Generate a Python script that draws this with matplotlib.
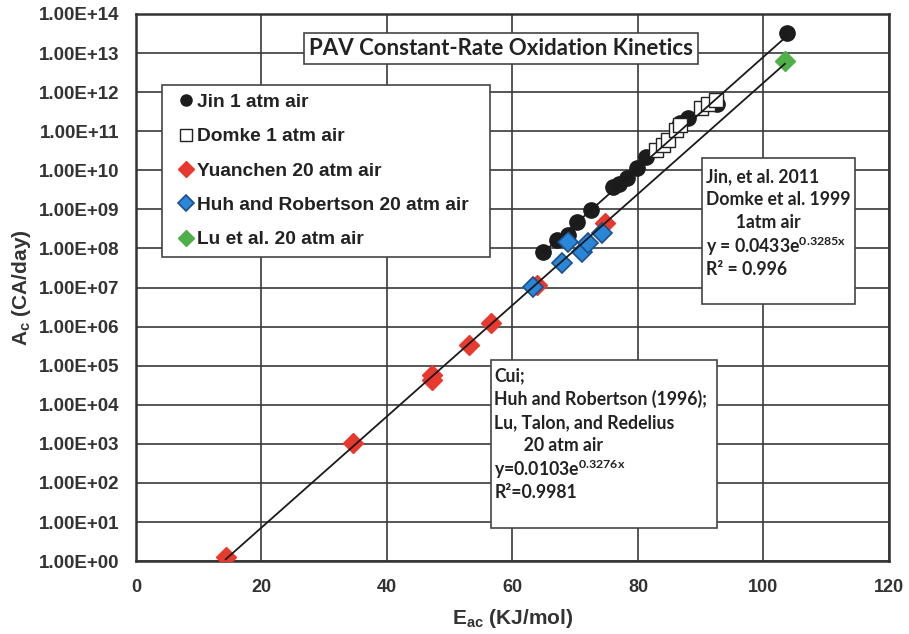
import numpy as np
import matplotlib
matplotlib.use("Agg")
import matplotlib.pyplot as plt
from matplotlib.ticker import FuncFormatter, FixedLocator
from matplotlib.patches import Rectangle

plt.rcParams['font.family'] = ['Liberation Sans', 'DejaVu Sans']
plt.rcParams['mathtext.fontset'] = 'custom'
plt.rcParams['mathtext.rm'] = 'Liberation Sans:bold'
plt.rcParams['mathtext.sf'] = 'Lato:bold'

# data (x: kJ/mol, y: log10 of A_c)
jin_x = [64.9, 67.1, 68.8, 70.3, 72.5, 76.0, 77.0, 78.2, 79.8, 81.3, 86.7, 88.0, 92.6, 103.7]
jin_logy = [7.91, 8.22, 8.35, 8.68, 8.99, 9.58, 9.65, 9.81, 10.06, 10.34, 11.21, 11.34, 11.70, 13.51]

domke_x = [82.9, 84.0, 84.8, 86.1, 86.7, 90.0, 91.2, 92.4]
domke_logy = [10.52, 10.65, 10.78, 11.03, 11.16, 11.60, 11.70, 11.80]

yuan_x = [14.3, 34.6, 47.2, 47.2, 53.1, 56.6, 63.9, 74.7]
yuan_logy = [0.11, 3.03, 4.77, 4.64, 5.53, 6.10, 7.07, 8.65]

huh_x = [63.3, 67.9, 68.8, 71.1, 72.0, 74.3]
huh_logy = [7.02, 7.63, 8.17, 7.91, 8.14, 8.40]

lu_x = [103.4]
lu_logy = [12.80]

# exponential fits given on the chart
fit1_a, fit1_b = 0.0433, 0.3285   # Jin + Domke, 1 atm
fit2_a, fit2_b = 0.0103, 0.3276   # 20 atm

to_val = lambda lst: 10 ** np.array(lst)
calib = ['Lato', 'DejaVu Sans']

fig = plt.figure(figsize=(9.09, 6.34), dpi=100)
ax = fig.add_axes([0.1496, 0.115, 0.978 - 0.1496, 0.978 - 0.115])

# trend lines over the data range
x1 = np.linspace(min(jin_x + domke_x), max(jin_x + domke_x), 50)
ax.plot(x1, fit1_a * np.exp(fit1_b * x1), color='#1a1a1a', lw=1.3, zorder=4)
all20 = yuan_x + huh_x + lu_x
x2 = np.linspace(min(all20), max(all20), 50)
ax.plot(x2, fit2_a * np.exp(fit2_b * x2), color='#1a1a1a', lw=1.3, zorder=4)

ax.plot(jin_x, to_val(jin_logy), 'o', ms=11, color='#1c1c1c', mec='#1c1c1c', label='Jin 1 atm air', zorder=3)
ax.plot(domke_x, to_val(domke_logy), 's', ms=10, mfc='white', mec='#222222', mew=1.0,
        label='Domke 1 atm air', zorder=3)
ax.plot(yuan_x, to_val(yuan_logy), 'D', ms=10, color='#e8392f', mec='#e8392f', label='Yuanchen 20 atm air', zorder=3)
ax.plot(huh_x, to_val(huh_logy), 'D', ms=10, mfc='#2a86d6', mec='#1d4f8f', mew=1.2,
        label='Huh and Robertson 20 atm air', zorder=3)
ax.plot(lu_x, to_val(lu_logy), 'D', ms=10, color='#4fb04a', mec='#4fb04a', label='Lu et al. 20 atm air', zorder=3)

ax.set_yscale('log')
ax.set_xlim(0, 120)
ax.set_ylim(1, 1e14)
ax.xaxis.set_major_locator(FixedLocator(np.arange(0, 121, 20)))
ax.yaxis.set_major_locator(FixedLocator(10.0 ** np.arange(0, 15)))
ax.yaxis.set_minor_locator(FixedLocator([]))
ax.yaxis.set_major_formatter(FuncFormatter(lambda v, p: '%.2E' % v))
ax.grid(True, which='major', color='#3a3a3a', lw=1.2)
ax.set_axisbelow(True)
for s in ax.spines.values():
    s.set_color('#333333')
    s.set_linewidth(1.8)
ax.tick_params(axis='y', length=0, pad=12, labelsize=13.5, labelcolor='#333333')
ax.tick_params(axis='x', length=0, pad=13, labelsize=13, labelcolor='#333333')
for lab in ax.get_xticklabels() + ax.get_yticklabels():
    lab.set_fontweight('bold')

ax.set_xlabel(r'$\mathrm{E_{ac}}$ (KJ/mol)', fontsize=15, fontweight='bold',
              color='#333333', labelpad=8)
ax.set_ylabel(r'$\mathrm{A_c}$ (CA/day)', fontsize=15, fontweight='bold', color='#333333', labelpad=4)

leg = ax.legend(loc='upper left', bbox_to_anchor=(0.0345, 0.0, 0.4356, 0.870), mode='expand',
                frameon=True, fancybox=False, framealpha=1, edgecolor='#444444',
                borderpad=0.45, labelspacing=0.88, handlelength=1.6, handletextpad=-0.22,
                borderaxespad=0, prop={'weight': 'bold', 'size': 13.8})
leg.get_frame().set_linewidth(1.2)
for t in leg.get_texts():
    t.set_color('#222222')
for h in leg.legend_handles:
    h.set_markersize(8)

# title box
ax.text(0.485, 0.937, 'PAV Constant-Rate Oxidation Kinetics', transform=ax.transAxes,
        ha='center', va='center', fontsize=16, fontweight='bold', family=calib, color='#222222',
        bbox=dict(boxstyle='square,pad=0.22', fc='white', ec='#444444', lw=1.2), zorder=6)

# Jin / Domke fit box
ax.add_patch(Rectangle((0.752, 0.469), 0.203, 0.267, transform=ax.transAxes,
                       fc='white', ec='#444444', lw=1.2, zorder=6))
jin_lines = ['Jin, et al. 2011', 'Domke et al. 1999', '       1atm air',
             r'y = 0.0433e$^{\mathsf{0.3285x}}$', 'R² = 0.996']
for i, s in enumerate(jin_lines):
    ax.text(0.757, 0.703 - i * 0.0425, s, transform=ax.transAxes, ha='left', va='center',
            fontsize=12.7, fontweight='bold', family=calib, color='#222222', zorder=7)

# 20 atm fit box
ax.add_patch(Rectangle((0.471, 0.06), 0.3, 0.307, transform=ax.transAxes,
                       fc='white', ec='#444444', lw=1.2, zorder=6))
cui_lines = ['Cui;', 'Huh and Robertson (1996);', 'Lu, Talon, and Redelius',
             '       20 atm air', r'y=0.0103e$^{\mathsf{0.3276x}}$', 'R²=0.9981']
for i, s in enumerate(cui_lines):
    ax.text(0.476, 0.338 - i * 0.0425, s, transform=ax.transAxes, ha='left', va='center',
            fontsize=12.7, fontweight='bold', family=calib, color='#222222', zorder=7)

fig.savefig('out.png', dpi=100)
